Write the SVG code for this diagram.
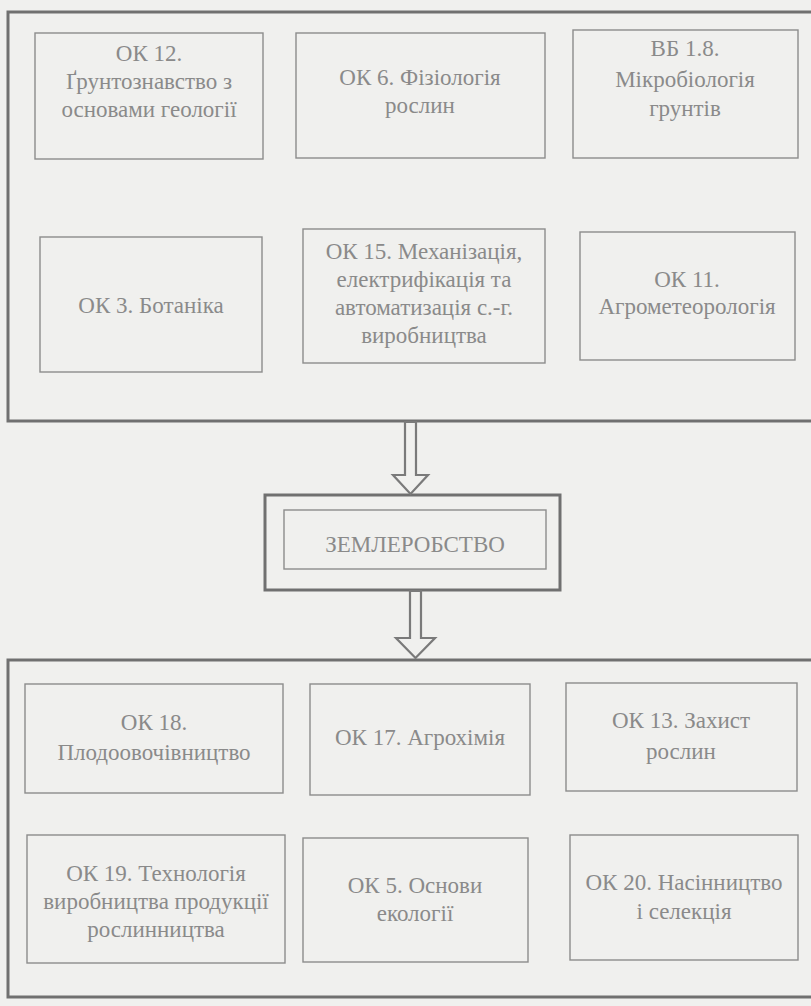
<svg xmlns="http://www.w3.org/2000/svg" width="811" height="1006" viewBox="0 0 811 1006">
<style>
.frame{fill:none;stroke:#707070;stroke-width:3}
.box{fill:none;stroke:#8c8c8c;stroke-width:1.4}
.arrow{fill:#f0f0ee;stroke:#7a7a7a;stroke-width:2.2;stroke-linejoin:miter}
.t{font-family:"Liberation Serif",serif !important;font-size:23px;fill:#8a8a8a;text-anchor:middle}
</style>
<rect width="811" height="1006" fill="#f0f0ee"/>
<g id="top-frame">
<rect class="frame" x="8" y="12" width="806" height="409"/>
</g>
<g id="ok12"><rect class="box" x="35" y="33" width="228" height="126"/>
<text class="t" style="font-family:'Liberation Serif',serif" x="149" y="61">ОК 12.</text>
<text class="t" style="font-family:'Liberation Serif',serif" x="149" y="89">Ґрунтознавство з</text>
<text class="t" style="font-family:'Liberation Serif',serif" x="149" y="117">основами геології</text></g>
<g id="ok6"><rect class="box" x="296" y="33" width="249" height="125"/>
<text class="t" style="font-family:'Liberation Serif',serif" x="420" y="85">ОК 6. Фізіологія</text>
<text class="t" style="font-family:'Liberation Serif',serif" x="420" y="113">рослин</text></g>
<g id="vb18"><rect class="box" x="573" y="30" width="225" height="128"/>
<text class="t" style="font-family:'Liberation Serif',serif" x="685" y="56">ВБ 1.8.</text>
<text class="t" style="font-family:'Liberation Serif',serif" x="685" y="87">Мікробіологія</text>
<text class="t" style="font-family:'Liberation Serif',serif" x="685" y="116">грунтів</text></g>
<g id="ok3"><rect class="box" x="40" y="237" width="222" height="135"/>
<text class="t" style="font-family:'Liberation Serif',serif" x="151" y="313">ОК 3. Ботаніка</text></g>
<g id="ok15"><rect class="box" x="303" y="229" width="242" height="134"/>
<text class="t" style="font-family:'Liberation Serif',serif" x="424" y="259">ОК 15. Механізація,</text>
<text class="t" style="font-family:'Liberation Serif',serif" x="424" y="287">електрифікація та</text>
<text class="t" style="font-family:'Liberation Serif',serif" x="424" y="315">автоматизація с.-г.</text>
<text class="t" style="font-family:'Liberation Serif',serif" x="424" y="343">виробництва</text></g>
<g id="ok11"><rect class="box" x="580" y="232" width="215" height="128"/>
<text class="t" style="font-family:'Liberation Serif',serif" x="687" y="287">ОК 11.</text>
<text class="t" style="font-family:'Liberation Serif',serif" x="687" y="314">Агрометеорологія</text></g>
<g id="zemlerobstvo">
<rect class="frame" x="265" y="495" width="295" height="95"/>
<rect class="box" x="284" y="510" width="262" height="59"/>
<text class="t" style="font-family:'Liberation Serif',serif" x="415" y="552">ЗЕМЛЕРОБСТВО</text></g>
<g id="bottom-frame">
<rect class="frame" x="8" y="660" width="806" height="337"/>
</g>
<g id="ok18"><rect class="box" x="25" y="684" width="258" height="109"/>
<text class="t" style="font-family:'Liberation Serif',serif" x="154" y="730">ОК 18.</text>
<text class="t" style="font-family:'Liberation Serif',serif" x="154" y="760">Плодоовочівництво</text></g>
<g id="ok17"><rect class="box" x="310" y="684" width="220" height="111"/>
<text class="t" style="font-family:'Liberation Serif',serif" x="420" y="745">ОК 17. Агрохімія</text></g>
<g id="ok13"><rect class="box" x="566" y="683" width="231" height="108"/>
<text class="t" style="font-family:'Liberation Serif',serif" x="681" y="728">ОК 13. Захист</text>
<text class="t" style="font-family:'Liberation Serif',serif" x="681" y="759">рослин</text></g>
<g id="ok19"><rect class="box" x="27" y="835" width="258" height="128"/>
<text class="t" style="font-family:'Liberation Serif',serif" x="156" y="881">ОК 19. Технологія</text>
<text class="t" style="font-family:'Liberation Serif',serif" x="156" y="909">виробництва продукції</text>
<text class="t" style="font-family:'Liberation Serif',serif" x="156" y="937">рослинництва</text></g>
<g id="ok5"><rect class="box" x="303" y="838" width="225" height="124"/>
<text class="t" style="font-family:'Liberation Serif',serif" x="415" y="893">ОК 5. Основи</text>
<text class="t" style="font-family:'Liberation Serif',serif" x="415" y="921">екології</text></g>
<g id="ok20"><rect class="box" x="570" y="835" width="228" height="125"/>
<text class="t" style="font-family:'Liberation Serif',serif" x="684" y="890">ОК 20. Насінництво</text>
<text class="t" style="font-family:'Liberation Serif',serif" x="684" y="919">і селекція</text></g>
<g id="connectors">
<polygon class="arrow" points="405,422 405,475 393,475 410.5,494 428,475 416,475 416,422"/>
<polygon class="arrow" points="410,591 410,638 396,638 415.5,658 435,638 421,638 421,591"/>
</g>
</svg>
